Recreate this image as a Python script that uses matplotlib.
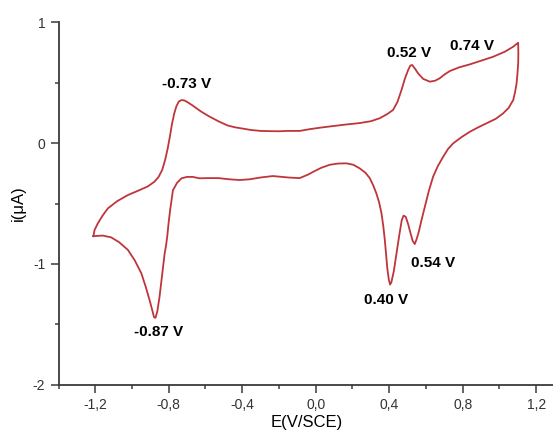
import matplotlib
matplotlib.use('Agg')
import matplotlib.pyplot as plt
from matplotlib.ticker import MultipleLocator, FuncFormatter

plt.rcParams['font.family'] = ['Liberation Sans', 'DejaVu Sans']

# barrido anodico (de -1.21 V hasta 1.10 V)
e_up = [-1.21, -1.204, -1.186, -1.16, -1.131, -1.08, -1.022, -0.96, -0.913, -0.878,
        -0.855, -0.835, -0.818, -0.805, -0.793, -0.782, -0.77, -0.758, -0.745, -0.731,
        -0.715, -0.695, -0.67, -0.623, -0.58, -0.53, -0.48, -0.44, -0.40, -0.35,
        -0.30, -0.25, -0.20, -0.15, -0.087, -0.03, 0.03, 0.094, 0.16, 0.24,
        0.30, 0.349, 0.39, 0.421, 0.445, 0.467, 0.485, 0.503, 0.515, 0.525,
        0.54, 0.557, 0.585, 0.621, 0.65, 0.675, 0.70, 0.73, 0.78, 0.839,
        0.90, 0.966, 1.03, 1.075, 1.102]
i_up = [-0.77, -0.72, -0.664, -0.60, -0.54, -0.48, -0.43, -0.39, -0.358, -0.32,
        -0.28, -0.22, -0.13, -0.04, 0.06, 0.16, 0.245, 0.305, 0.343, 0.355,
        0.352, 0.335, 0.31, 0.259, 0.22, 0.18, 0.145, 0.13, 0.12, 0.107,
        0.10, 0.098, 0.097, 0.10, 0.10, 0.115, 0.128, 0.14, 0.152, 0.165,
        0.18, 0.205, 0.24, 0.273, 0.34, 0.438, 0.53, 0.603, 0.64, 0.645,
        0.615, 0.576, 0.53, 0.507, 0.515, 0.535, 0.565, 0.595, 0.625, 0.650,
        0.680, 0.713, 0.755, 0.796, 0.829]

# barrido catodico (de 1.10 V de vuelta a -1.21 V)
e_down = [1.103, 1.102, 1.098, 1.093, 1.085, 1.075, 1.05, 1.02, 0.98, 0.93,
          0.885, 0.839, 0.795, 0.748, 0.72, 0.694, 0.665, 0.639, 0.615, 0.595,
          0.576, 0.56, 0.548, 0.539, 0.528, 0.515, 0.503, 0.49, 0.478, 0.468,
          0.455, 0.44, 0.425, 0.412, 0.405, 0.398, 0.39, 0.382, 0.376, 0.368,
          0.358, 0.345, 0.33, 0.313, 0.294, 0.27, 0.24, 0.205, 0.167, 0.12,
          0.076, 0.03, -0.01, -0.04, -0.087, -0.15, -0.233, -0.30, -0.36, -0.414,
          -0.47, -0.53, -0.59, -0.632, -0.67, -0.70, -0.731, -0.755, -0.777, -0.792,
          -0.80, -0.808, -0.815, -0.822, -0.835, -0.85, -0.862, -0.872, -0.88, -0.89,
          -0.904, -0.925, -0.949, -0.985, -1.022, -1.07, -1.113, -1.16, -1.21]
i_down = [0.74, 0.66, 0.57, 0.49, 0.42, 0.355, 0.29, 0.245, 0.20, 0.163,
          0.13, 0.093, 0.05, -0.003, -0.05, -0.113, -0.19, -0.278, -0.40, -0.52,
          -0.636, -0.74, -0.80, -0.835, -0.81, -0.74, -0.67, -0.61, -0.60, -0.64,
          -0.76, -0.91, -1.06, -1.15, -1.17, -1.13, -1.04, -0.90, -0.80, -0.69,
          -0.58, -0.49, -0.416, -0.35, -0.29, -0.245, -0.21, -0.18, -0.168, -0.17,
          -0.18, -0.205, -0.235, -0.26, -0.29, -0.285, -0.273, -0.285, -0.30, -0.306,
          -0.30, -0.29, -0.29, -0.292, -0.28, -0.28, -0.292, -0.33, -0.39, -0.55,
          -0.65, -0.77, -0.85, -0.91, -1.08, -1.27, -1.39, -1.445, -1.44, -1.38,
          -1.30, -1.19, -1.077, -0.97, -0.884, -0.82, -0.78, -0.765, -0.77]

# etiquetas de los picos
peak_labels = ['-0.73 V', '0.52 V', '0.74 V', '-0.87 V', '0.40 V', '0.54 V']
label_x = [-0.703, 0.507, 0.852, -0.855, 0.381, 0.637]
label_y = [0.49, 0.74, 0.80, -1.558, -1.30, -0.992]

fig = plt.figure(figsize=(5.53, 4.36), dpi=100)
ax = fig.add_axes([0.1058, 0.117, 0.897, 0.8325])

ax.plot(e_up + e_down, i_up + i_down, color='#c0343c', lw=1.3)

for txt, xx, yy in zip(peak_labels, label_x, label_y):
    ax.text(xx, yy, txt, ha='center', va='center', fontsize=11, fontweight='bold')

ax.set_xlim(-1.4, 1.3)
ax.set_ylim(-2, 1)
ax.xaxis.set_minor_locator(MultipleLocator(0.2))
ax.yaxis.set_major_locator(MultipleLocator(1))
ax.yaxis.set_minor_locator(MultipleLocator(0.5))
ax.set_xticks([-1.2, -0.8, -0.4, 0.0, 0.4, 0.8, 1.2])
ax.xaxis.set_major_formatter(FuncFormatter(lambda v, p: ('%.1f' % v).replace('.', ',')))
ax.yaxis.set_major_formatter(FuncFormatter(lambda v, p: '%d' % round(v)))

for s in ['top', 'right']:
    ax.spines[s].set_visible(False)
for s in ['left', 'bottom']:
    ax.spines[s].set_color('#3a3a3a')
    ax.spines[s].set_linewidth(1.3)
ax.tick_params(which='major', direction='out', length=6, width=1.1, color='#3a3a3a',
               labelsize=10, labelcolor='#333333')
ax.tick_params(which='minor', direction='out', length=3, width=1.1, color='#3a3a3a')

ax.set_xlabel('E(V/SCE)', fontsize=12, labelpad=2)
ax.set_ylabel('i(μA)', fontsize=12, labelpad=5)

plt.savefig('out.png', dpi=100)
